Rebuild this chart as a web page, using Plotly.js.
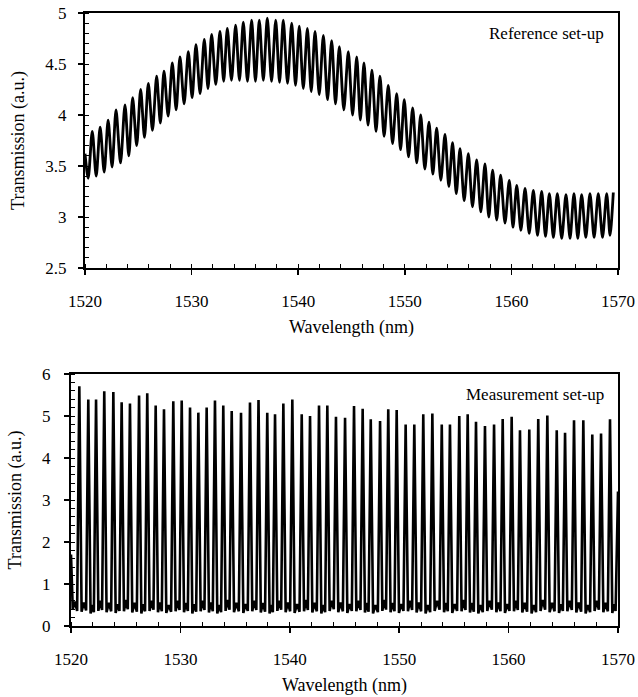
<!DOCTYPE html>
<html>
<head>
<meta charset="utf-8">
<script src="https://cdn.plot.ly/plotly-3.0.1.min.js"></script>
<style>html,body{margin:0;padding:0;background:#fff;}#chart{width:638px;height:697px;}</style>
</head>
<body>
<div id="chart"></div>
<script>
// ---------- Reference set-up (top panel) ----------
const topStartWl = [1520.00];
const topStartT = [3.62];
const topPeakWl = [1520.68,1521.42,1522.17,1522.91,1523.75,1524.47,1525.22,1525.94,1526.72,1527.41,
  1528.19,1528.91,1529.69,1530.41,1531.19,1531.88,1532.66,1533.35,1534.13,1534.85,
  1535.63,1536.35,1537.10,1537.89,1538.60,1539.39,1540.10,1540.86,1541.58,1542.36,
  1543.14,1543.86,1544.70,1545.49,1546.17,1546.92,1547.67,1548.45,1549.24,1549.95,
  1550.74,1551.49,1552.27,1552.99,1553.77,1554.48,1555.18,1555.96,1556.74,1557.52,
  1558.24,1558.99,1559.80,1560.50,1561.28,1562.06,1562.84,1563.56,1564.31,1565.12,
  1565.87,1566.59,1567.37,1568.15,1568.94,1569.56];
const topPeakT = [3.84,3.88,3.95,4.05,4.10,4.17,4.25,4.31,4.38,4.43,
  4.51,4.57,4.62,4.69,4.74,4.79,4.82,4.85,4.88,4.91,
  4.93,4.93,4.95,4.93,4.93,4.90,4.87,4.85,4.82,4.78,
  4.73,4.67,4.62,4.57,4.51,4.44,4.38,4.29,4.21,4.15,
  4.07,4.00,3.93,3.87,3.81,3.73,3.67,3.62,3.56,3.52,
  3.46,3.41,3.36,3.31,3.28,3.26,3.25,3.23,3.23,3.22,
  3.23,3.22,3.23,3.23,3.23,3.24];
const topTroughWl = [1520.30,1521.05,1521.80,1522.54,1523.33,1524.11,1524.85,1525.58,1526.33,1527.07,
  1527.80,1528.55,1529.30,1530.05,1530.80,1531.54,1532.27,1533.01,1533.74,1534.49,
  1535.24,1535.99,1536.73,1537.50,1538.25,1539.00,1539.75,1540.48,1541.22,1541.97,
  1542.75,1543.50,1544.28,1545.10,1545.83,1546.55,1547.30,1548.06,1548.85,1549.60,
  1550.35,1551.12,1551.88,1552.63,1553.38,1554.13,1554.83,1555.57,1556.35,1557.13,
  1557.88,1558.62,1559.40,1560.15,1560.89,1561.67,1562.45,1563.20,1563.94,1564.72,
  1565.50,1566.23,1566.98,1567.76,1568.55,1569.25];
const topTroughT = [3.38,3.40,3.44,3.49,3.53,3.60,3.70,3.78,3.85,3.92,
  3.99,4.05,4.11,4.17,4.21,4.26,4.30,4.33,4.34,4.34,
  4.33,4.33,4.34,4.33,4.32,4.31,4.29,4.26,4.23,4.20,
  4.15,4.11,4.05,4.00,3.95,3.90,3.84,3.79,3.72,3.66,
  3.59,3.53,3.47,3.42,3.36,3.30,3.23,3.16,3.10,3.05,
  3.00,2.97,2.94,2.90,2.87,2.84,2.82,2.81,2.80,2.79,
  2.79,2.79,2.80,2.80,2.80,2.82];

// ---------- Measurement set-up (bottom panel) ----------
// each row: peak, foot after peak, small bump, foot before next peak
const bottomWl = [
  1520.00,1520.16,1520.36,1520.56,
  1520.76,1520.97,1521.17,1521.38,
  1521.58,1521.79,1521.94,1522.09,
  1522.29,1522.50,1522.67,1522.84,
  1523.04,1523.25,1523.46,1523.67,
  1523.87,1524.08,1524.25,1524.43,
  1524.63,1524.84,1525.01,1525.19,
  1525.39,1525.60,1525.81,1526.02,
  1526.22,1526.43,1526.60,1526.77,
  1526.97,1527.18,1527.36,1527.54,
  1527.74,1527.95,1528.12,1528.30,
  1528.50,1528.71,1528.93,1529.15,
  1529.35,1529.56,1529.74,1529.92,
  1530.12,1530.33,1530.50,1530.68,
  1530.88,1531.09,1531.26,1531.44,
  1531.64,1531.85,1532.02,1532.20,
  1532.40,1532.61,1532.78,1532.96,
  1533.16,1533.37,1533.54,1533.72,
  1533.92,1534.13,1534.31,1534.49,
  1534.69,1534.90,1535.12,1535.34,
  1535.54,1535.75,1535.95,1536.16,
  1536.36,1536.57,1536.75,1536.94,
  1537.14,1537.35,1537.54,1537.74,
  1537.94,1538.15,1538.30,1538.45,
  1538.65,1538.86,1539.03,1539.21,
  1539.41,1539.62,1539.82,1540.03,
  1540.23,1540.44,1540.66,1540.89,
  1541.09,1541.30,1541.47,1541.65,
  1541.85,1542.06,1542.26,1542.47,
  1542.67,1542.88,1543.05,1543.23,
  1543.43,1543.64,1543.83,1544.02,
  1544.22,1544.43,1544.64,1544.85,
  1545.05,1545.26,1545.46,1545.67,
  1545.87,1546.08,1546.27,1546.46,
  1546.66,1546.87,1547.03,1547.20,
  1547.40,1547.61,1547.83,1548.05,
  1548.25,1548.46,1548.63,1548.80,
  1549.00,1549.21,1549.39,1549.57,
  1549.77,1549.98,1550.18,1550.39,
  1550.59,1550.80,1550.99,1551.18,
  1551.38,1551.59,1551.79,1552.00,
  1552.20,1552.41,1552.62,1552.83,
  1553.03,1553.24,1553.46,1553.69,
  1553.89,1554.10,1554.27,1554.44,
  1554.64,1554.85,1555.07,1555.29,
  1555.49,1555.70,1555.88,1556.06,
  1556.26,1556.47,1556.64,1556.82,
  1557.02,1557.23,1557.43,1557.64,
  1557.84,1558.05,1558.26,1558.47,
  1558.67,1558.88,1559.07,1559.26,
  1559.46,1559.67,1559.87,1560.08,
  1560.28,1560.49,1560.66,1560.84,
  1561.04,1561.25,1561.47,1561.69,
  1561.89,1562.10,1562.30,1562.51,
  1562.71,1562.92,1563.13,1563.34,
  1563.54,1563.75,1563.97,1564.20,
  1564.40,1564.61,1564.78,1564.96,
  1565.16,1565.37,1565.57,1565.78,
  1565.98,1566.19,1566.41,1566.63,
  1566.83,1567.04,1567.24,1567.45,
  1567.65,1567.86,1568.05,1568.25,
  1568.45,1568.66,1568.86,1569.07,
  1569.27,1569.48,1569.62,1569.78,
  1570.00];
const bottomT = [
  1.70,0.40,0.58,0.36,
  5.71,0.34,0.56,0.37,
  5.39,0.30,0.50,0.33,
  5.39,0.36,0.60,0.38,
  5.59,0.33,0.55,0.35,
  5.57,0.31,0.52,0.36,
  5.33,0.35,0.62,0.40,
  5.30,0.32,0.55,0.34,
  5.49,0.30,0.52,0.35,
  5.54,0.36,0.60,0.39,
  5.25,0.33,0.56,0.35,
  5.16,0.31,0.50,0.34,
  5.35,0.35,0.60,0.38,
  5.37,0.33,0.55,0.36,
  5.20,0.30,0.52,0.34,
  5.08,0.35,0.60,0.38,
  5.20,0.32,0.56,0.35,
  5.37,0.30,0.50,0.33,
  5.25,0.36,0.62,0.39,
  5.12,0.33,0.55,0.35,
  5.08,0.31,0.52,0.36,
  5.32,0.35,0.60,0.38,
  5.38,0.32,0.55,0.34,
  5.08,0.30,0.50,0.33,
  5.04,0.36,0.60,0.39,
  5.30,0.33,0.56,0.35,
  5.39,0.31,0.52,0.34,
  5.04,0.35,0.62,0.38,
  5.00,0.32,0.55,0.35,
  5.25,0.30,0.50,0.33,
  5.25,0.36,0.60,0.40,
  4.98,0.33,0.56,0.35,
  4.96,0.31,0.52,0.36,
  5.24,0.35,0.60,0.38,
  5.17,0.32,0.55,0.34,
  4.92,0.30,0.50,0.33,
  4.88,0.36,0.62,0.39,
  5.16,0.33,0.55,0.35,
  5.14,0.31,0.52,0.36,
  4.80,0.35,0.60,0.38,
  4.80,0.32,0.56,0.35,
  5.04,0.30,0.50,0.33,
  5.06,0.36,0.60,0.39,
  4.80,0.33,0.55,0.35,
  4.80,0.31,0.52,0.36,
  5.00,0.35,0.62,0.38,
  5.04,0.32,0.55,0.34,
  4.86,0.30,0.50,0.33,
  4.76,0.36,0.60,0.39,
  4.80,0.33,0.56,0.35,
  4.93,0.31,0.52,0.36,
  4.98,0.35,0.60,0.38,
  4.66,0.32,0.55,0.34,
  4.68,0.30,0.50,0.33,
  4.93,0.36,0.62,0.39,
  5.01,0.33,0.55,0.35,
  4.66,0.31,0.52,0.36,
  4.60,0.35,0.60,0.38,
  4.90,0.32,0.56,0.34,
  4.90,0.30,0.50,0.33,
  4.56,0.36,0.60,0.39,
  4.58,0.33,0.55,0.35,
  4.92,0.31,0.52,0.36,
  3.20];

const xTickVals = [1520,1530,1540,1550,1560,1570];

// interleave top panel troughs and peaks into one trace
const topWl = topStartWl.slice();
const topT = topStartT.slice();
for (let i = 0; i < topPeakWl.length; i++) {
  topWl.push(topTroughWl[i], topPeakWl[i]);
  topT.push(topTroughT[i], topPeakT[i]);
}

const FONT = "'Liberation Serif', 'Times New Roman', Times, serif";

const traces = [
  {x: topWl, y: topT, xaxis: 'x', yaxis: 'y', type: 'scatter', mode: 'lines',
   line: {color: '#000', width: 2.8, shape: 'spline', smoothing: 0.8}, showlegend: false, hoverinfo: 'skip'},
  {x: bottomWl, y: bottomT, xaxis: 'x2', yaxis: 'y2', type: 'scatter', mode: 'lines',
   line: {color: '#000', width: 2.6}, showlegend: false, hoverinfo: 'skip'}
];

function xAxis(domain, anchor) {
  return {
    domain: domain, anchor: anchor, range: [1520, 1570], tickvals: xTickVals,
    ticks: 'outside', ticklen: 5, tickwidth: 1.5, tickcolor: '#000',
    ticklabelstandoff: 12,
    minor: {dtick: 2, tick0: 1520, ticks: 'inside', ticklen: 4, tickwidth: 1, tickcolor: '#000'},
    showline: true, linewidth: 2, linecolor: '#000', mirror: true,
    showgrid: false, zeroline: false,
    tickfont: {family: FONT, size: 17, color: '#000'},
    title: {text: 'Wavelength (nm)', font: {family: FONT, size: 18, color: '#000'}, standoff: 10}
  };
}

const layout = {
  width: 638, height: 697,
  margin: {l: 0, r: 0, t: 0, b: 0},
  paper_bgcolor: '#fff', plot_bgcolor: '#fff',
  font: {family: FONT, color: '#000'},
  showlegend: false,
  xaxis: xAxis([85/638, 618/638], 'y'),
  xaxis2: xAxis([71/638, 618/638], 'y2'),
  yaxis: {
    domain: [1 - 268/697, 1 - 13/697], anchor: 'x', range: [2.5, 5], dtick: 0.5, tick0: 2.5,
    ticks: 'outside', ticklen: 5, tickwidth: 1.5, tickcolor: '#000', ticklabelstandoff: 8,
    minor: {dtick: 0.1, tick0: 2.5, ticks: 'inside', ticklen: 4, tickwidth: 1, tickcolor: '#000'},
    showline: true, linewidth: 2, linecolor: '#000', mirror: true,
    showgrid: false, zeroline: false,
    tickfont: {family: FONT, size: 17, color: '#000'},
    title: {text: 'Transmission (a.u.)', font: {family: FONT, size: 18, color: '#000'}, standoff: 16}
  },
  yaxis2: {
    domain: [1 - 626/697, 1 - 374/697], anchor: 'x2', range: [0, 6], dtick: 1, tick0: 0,
    ticks: 'outside', ticklen: 5, tickwidth: 1.5, tickcolor: '#000', ticklabelstandoff: 10,
    minor: {dtick: 0.2, tick0: 0, ticks: 'inside', ticklen: 4, tickwidth: 1, tickcolor: '#000'},
    showline: true, linewidth: 2, linecolor: '#000', mirror: true,
    showgrid: false, zeroline: false,
    tickfont: {family: FONT, size: 17, color: '#000'},
    title: {text: 'Transmission (a.u.)', font: {family: FONT, size: 18, color: '#000'}, standoff: 16}
  },
  annotations: [
    {text: 'Reference set-up', xref: 'paper', yref: 'paper', x: 606/638, y: 1 - 33/697,
     xanchor: 'right', yanchor: 'middle', showarrow: false, font: {family: FONT, size: 17, color: '#000'}},
    {text: 'Measurement set-up', xref: 'paper', yref: 'paper', x: 606/638, y: 1 - 394/697,
     xanchor: 'right', yanchor: 'middle', showarrow: false, font: {family: FONT, size: 17, color: '#000'}}
  ]
};

Plotly.newPlot('chart', traces, layout, {staticPlot: true, displayModeBar: false});
</script>
</body>
</html>
